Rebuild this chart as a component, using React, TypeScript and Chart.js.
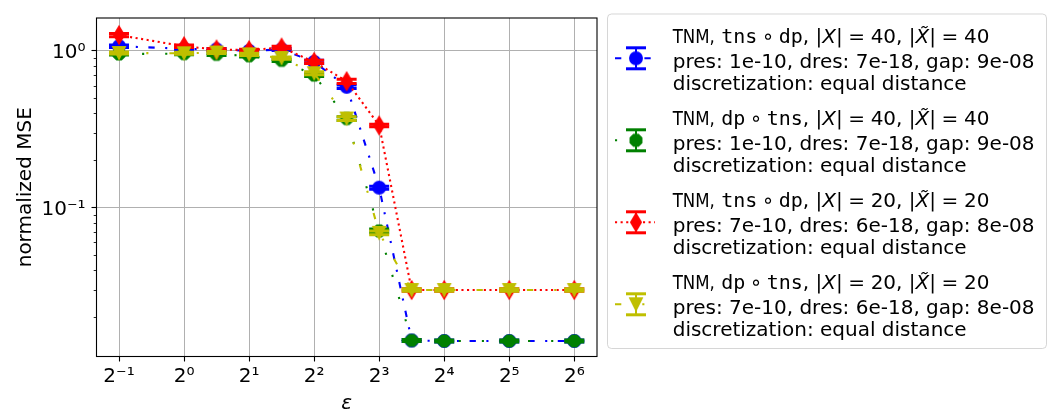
import { useEffect, useRef } from 'react';
import { Chart, registerables } from 'chart.js';

Chart.register(...registerables);

// ---------- data ----------
const epsilonValues = [0.5, 1, 1.414, 2, 2.828, 4, 5.657, 8, 11.31, 16, 32, 64];

const mseTnsDp40 = [1.07, 1.03, 1.02, 1.0, 1.02, 0.85, 0.59, 0.134, 0.0142, 0.0141, 0.0141, 0.0141];
const errTnsDp40 = [0.02, 0.015, 0.015, 0.015, 0.015, 0.02, 0.015, 0.003, 0.0002, 0.0002, 0.0002, 0.0002];
const mseDpTns40 = [0.955, 0.96, 0.95, 0.93, 0.87, 0.70, 0.37, 0.071, 0.0142, 0.0141, 0.0141, 0.0141];
const errDpTns40 = [0.015, 0.015, 0.015, 0.015, 0.015, 0.015, 0.01, 0.002, 0.0002, 0.0002, 0.0002, 0.0002];
const mseTnsDp20 = [1.26, 1.07, 1.02, 1.01, 1.05, 0.85, 0.64, 0.334, 0.0298, 0.0298, 0.0298, 0.0298];
const errTnsDp20 = [0.03, 0.02, 0.015, 0.015, 0.02, 0.02, 0.02, 0.006, 0.0005, 0.0005, 0.0005, 0.0005];
const mseDpTns20 = [0.968, 0.965, 0.975, 0.95, 0.90, 0.72, 0.37, 0.069, 0.0298, 0.0298, 0.0298, 0.0298];
const errDpTns20 = [0.015, 0.015, 0.015, 0.015, 0.015, 0.015, 0.01, 0.002, 0.0005, 0.0005, 0.0005, 0.0005];

const xTickValues = [0.5, 1, 2, 4, 8, 16, 32, 64];
const xTickLabels = ['2\u207B\u00B9', '2\u2070', '2\u00B9', '2\u00B2', '2\u00B3', '2\u2074', '2\u2075', '2\u2076'];
const yMajorTickValues = [0.1, 1];
const yMajorTickLabels = ['10\u207B\u00B9', '10\u2070'];
const yMinorTickValues = [0.02, 0.03, 0.04, 0.05, 0.06, 0.07, 0.08, 0.09, 0.2, 0.3, 0.4, 0.5, 0.6, 0.7, 0.8, 0.9];

const xAxisTitle = '\u03B5';
const yAxisTitle = 'normalized MSE';

const legendMethod = ['TNM', 'TNM', 'TNM', 'TNM'];
const legendOrder = [['tns', 'dp'], ['dp', 'tns'], ['tns', 'dp'], ['dp', 'tns']];
const legendSize = ['40', '40', '20', '20'];
const legendPres = ['1e-10', '1e-10', '7e-10', '7e-10'];
const legendDres = ['7e-18', '7e-18', '6e-18', '6e-18'];
const legendGap = ['9e-08', '9e-08', '8e-08', '8e-08'];
const legendDiscretization = ['equal distance', 'equal distance', 'equal distance', 'equal distance'];

// ---------- styles ----------
const FAMILY = '"DejaVu Sans", sans-serif';
const REG = '20px "DejaVu Sans"';
const MONO = '20px "DejaVu Sans Mono"';
const ITAL = 'italic 20px "DejaVu Sans"';
const DASHDOTTED = [6.3, 10.5, 2.1, 10.5];
const LOOSE_DOTTED = [2.1, 21];
const DOTTED = [2.1, 3.5];
const LOOSE_DASHDOTTED = [6.3, 21, 2.1, 21];
const SPACE = 6.4;
const MED = 4.4;
const THICK = 5.6;

const W = 1048;
const H = 416;
const AREA = { left: 96.5, top: 6, right: 597, bottom: 356.5 };

type Shape = 'circle' | 'octagon' | 'thinDiamond' | 'triangleDown';

function makeMarker(shape: Shape, color: string): HTMLCanvasElement {
  const c = document.createElement('canvas');
  c.width = 26;
  c.height = 26;
  const g = c.getContext('2d')!;
  const cx = 13, cy = 13, ms = 12.5;
  g.fillStyle = color;
  g.strokeStyle = color;
  g.lineWidth = 1.4;
  g.lineJoin = 'miter';
  g.beginPath();
  if (shape === 'circle') {
    g.arc(cx, cy, ms / 2, 0, Math.PI * 2);
  } else if (shape === 'octagon') {
    for (let k = 0; k < 8; k++) {
      const a = (Math.PI / 8) + (k * Math.PI) / 4;
      const px = cx + (ms / 2) * Math.cos(a);
      const py = cy + (ms / 2) * Math.sin(a);
      if (k === 0) g.moveTo(px, py); else g.lineTo(px, py);
    }
    g.closePath();
  } else if (shape === 'thinDiamond') {
    const hh = ms * 0.707, hw = ms * 0.707 * 0.6;
    g.moveTo(cx, cy - hh);
    g.lineTo(cx + hw, cy);
    g.lineTo(cx, cy + hh);
    g.lineTo(cx - hw, cy);
    g.closePath();
  } else {
    const h = ms / 2;
    g.moveTo(cx - h, cy - h);
    g.lineTo(cx + h, cy - h);
    g.lineTo(cx, cy + h);
    g.closePath();
  }
  g.fill();
  g.stroke();
  return c;
}

function line(ctx: CanvasRenderingContext2D, x1: number, y1: number, x2: number, y2: number) {
  ctx.beginPath();
  ctx.moveTo(x1, y1);
  ctx.lineTo(x2, y2);
  ctx.stroke();
}

function drawErrorBar(ctx: CanvasRenderingContext2D, x: number, yTop: number, yBot: number, color: string) {
  ctx.save();
  ctx.setLineDash([]);
  ctx.strokeStyle = color;
  ctx.lineWidth = 2;
  line(ctx, x, yTop, x, yBot);
  ctx.lineWidth = 3;
  line(ctx, x - 10, yTop, x + 10, yTop);
  line(ctx, x - 10, yBot, x + 10, yBot);
  ctx.restore();
}

// token: [text, font, gapAfter, horizontalScale]
type Tok = [string, string, number, number];
function drawTokens(ctx: CanvasRenderingContext2D, toks: Tok[], x: number, y: number) {
  let cx = x;
  for (const [t, f, gap, sx] of toks) {
    ctx.font = f;
    ctx.save();
    ctx.translate(cx, y);
    ctx.scale(sx, 1);
    ctx.fillText(t, 0, 0);
    ctx.restore();
    cx += ctx.measureText(t).width * sx + gap;
  }
}

export default function App() {
  const ref = useRef<HTMLCanvasElement>(null);

  useEffect(() => {
    const canvas = ref.current!;
    const series = [
      { label: 'tns-dp-40', values: mseTnsDp40, errors: errTnsDp40, color: '#0000ff', dash: DASHDOTTED, shape: 'circle' as Shape, order: 4 },
      { label: 'dp-tns-40', values: mseDpTns40, errors: errDpTns40, color: '#008000', dash: LOOSE_DOTTED, shape: 'octagon' as Shape, order: 3 },
      { label: 'tns-dp-20', values: mseTnsDp20, errors: errTnsDp20, color: '#ff0000', dash: DOTTED, shape: 'thinDiamond' as Shape, order: 2 },
      { label: 'dp-tns-20', values: mseDpTns20, errors: errDpTns20, color: '#bfbf00', dash: LOOSE_DASHDOTTED, shape: 'triangleDown' as Shape, order: 1 },
    ];
    const markers = series.map((s) => makeMarker(s.shape, s.color));

    const errorBarPlugin = {
      id: 'errorBars',
      beforeDatasetDraw(chart: any, args: any) {
        const s = series[args.index];
        const ys = chart.scales.y;
        const ctx = chart.ctx;
        ctx.save();
        ctx.beginPath();
        ctx.rect(chart.chartArea.left, chart.chartArea.top, chart.chartArea.right - chart.chartArea.left, chart.chartArea.bottom - chart.chartArea.top);
        ctx.clip();
        args.meta.data.forEach((pt: any, i: number) => {
          const v = s.values[i];
          const e = s.errors[i];
          drawErrorBar(ctx, pt.x, ys.getPixelForValue(v + e), ys.getPixelForValue(v - e), s.color);
        });
        ctx.restore();
      },
    };

    const framePlugin = {
      id: 'frame',
      afterDatasetsDraw(chart: any) {
        const ctx = chart.ctx;
        const a = chart.chartArea;
        const ys = chart.scales.y;
        ctx.save();
        ctx.strokeStyle = '#000';
        ctx.lineWidth = 0.85;
        for (const v of yMinorTickValues) {
          const py = Math.round(ys.getPixelForValue(v)) + 0.5;
          line(ctx, a.left - 2.8, py, a.left, py);
        }
        ctx.lineWidth = 1.1;
        ctx.strokeRect(a.left, a.top, a.right - a.left, a.bottom - a.top);
        ctx.restore();
      },
    };

    const legendPlugin = {
      id: 'customLegend',
      afterDraw(chart: any) {
        const ctx: CanvasRenderingContext2D = chart.ctx;
        ctx.save();
        const bx = 607.5, by = 14, bw = 439, bh = 334.5;
        ctx.beginPath();
        if ((ctx as any).roundRect) (ctx as any).roundRect(bx, by, bw, bh, 4);
        else ctx.rect(bx, by, bw, bh);
        ctx.fillStyle = 'rgba(255,255,255,0.8)';
        ctx.fill();
        ctx.strokeStyle = 'rgba(204,204,204,0.8)';
        ctx.lineWidth = 1;
        ctx.stroke();

        series.forEach((s, i) => {
          const base = 43.3 + 82 * i;
          const hy = base + 15;
          ctx.save();
          ctx.strokeStyle = s.color;
          ctx.lineWidth = 2.1;
          ctx.lineCap = 'butt';
          ctx.setLineDash(s.dash);
          line(ctx, 615, hy, 655, hy);
          ctx.restore();
          drawErrorBar(ctx, 636, hy - 10.5, hy + 10.5, s.color);
          const m = markers[i];
          ctx.drawImage(m, 636 - m.width / 2, hy - m.height / 2);

          ctx.fillStyle = '#000';
          ctx.textBaseline = 'alphabetic';
          ctx.textAlign = 'left';
          const [a, b] = legendOrder[i];
          drawTokens(ctx, [
            [legendMethod[i] + ',', REG, SPACE, 0.83],
            [a, MONO, MED, 1],
            ['\u2218', REG, MED, 1],
            [b, MONO, 0, 1],
            [', |', REG, 0, 1],
            ['X', ITAL, 0, 1],
            ['|', REG, THICK, 1],
            ['=', REG, THICK, 1],
            [legendSize[i] + ', |', REG, 0, 1],
            ['X\u0303', ITAL, 0, 1],
            ['|', REG, THICK, 1],
            ['=', REG, THICK, 1],
            [legendSize[i], REG, 0, 1],
          ], 672.7, base);
          ctx.font = REG;
          ctx.fillText('pres: ' + legendPres[i] + ', dres: ' + legendDres[i] + ', gap: ' + legendGap[i], 672.7, base + 24.8);
          ctx.fillText('discretization: ' + legendDiscretization[i], 672.7, base + 46.9);
        });
        ctx.restore();
      },
    };

    const chart = new Chart(canvas, {
      type: 'line',
      data: {
        datasets: series.map((s, si) => ({
          label: s.label,
          data: epsilonValues.map((x, i) => ({ x, y: s.values[i] })),
          borderColor: s.color,
          backgroundColor: s.color,
          borderWidth: 2.1,
          borderDash: s.dash,
          borderCapStyle: 'butt',
          pointStyle: markers[si] as any,
          pointRadius: 6,
          pointHoverRadius: 6,
          order: s.order,
          fill: false,
          tension: 0,
        })) as any,
      },
      options: {
        responsive: false,
        animation: false,
        devicePixelRatio: 1,
        layout: { padding: { left: 0, top: AREA.top, right: W - AREA.right, bottom: 0 } },
        plugins: { legend: { display: false }, tooltip: { enabled: false } },
        scales: {
          x: {
            type: 'logarithmic',
            min: Math.pow(2, -1.346),
            max: Math.pow(2, 6.349),
            afterBuildTicks: (s: any) => { s.ticks = xTickValues.map((v) => ({ value: v })); },
            afterFit: (s: any) => { s.height = H - AREA.bottom; },
            ticks: {
              autoSkip: false,
              maxRotation: 0,
              padding: 3,
              color: '#000',
              font: { family: FAMILY, size: 20 },
              callback: (_v: any, i: number) => xTickLabels[i],
            },
            grid: { color: '#b0b0b0', lineWidth: 1, drawTicks: true, tickLength: 5, tickColor: '#000', tickWidth: 1.1 },
            border: { display: false },
            title: { display: true, text: xAxisTitle, color: '#000', font: { family: FAMILY, size: 20, style: 'italic' }, padding: { top: 0, bottom: 0 } },
          },
          y: {
            type: 'logarithmic',
            min: Math.pow(10, -1.95),
            max: Math.pow(10, 0.2095),
            afterBuildTicks: (s: any) => { s.ticks = yMajorTickValues.map((v) => ({ value: v })); },
            afterFit: (s: any) => { s.width = AREA.left; },
            ticks: {
              autoSkip: false,
              padding: 6,
              labelOffset: 2,
              color: '#000',
              font: { family: FAMILY, size: 20 },
              callback: (_v: any, i: number) => yMajorTickLabels[i],
            },
            grid: { color: '#b0b0b0', lineWidth: 1, drawTicks: true, tickLength: 5, tickColor: '#000', tickWidth: 1.1 },
            border: { display: false },
            title: { display: true, text: yAxisTitle, color: '#000', font: { family: FAMILY, size: 20 }, padding: { top: 14, bottom: 0 } },
          },
        },
      } as any,
      plugins: [errorBarPlugin, framePlugin, legendPlugin],
    });
    return () => chart.destroy();
  }, []);

  return (
    <div style={{ position: 'fixed', left: 0, top: 0, width: W, height: H, background: '#fff' }}>
      <canvas ref={ref} width={W} height={H} style={{ width: W, height: H, display: 'block' }} />
    </div>
  );
}
